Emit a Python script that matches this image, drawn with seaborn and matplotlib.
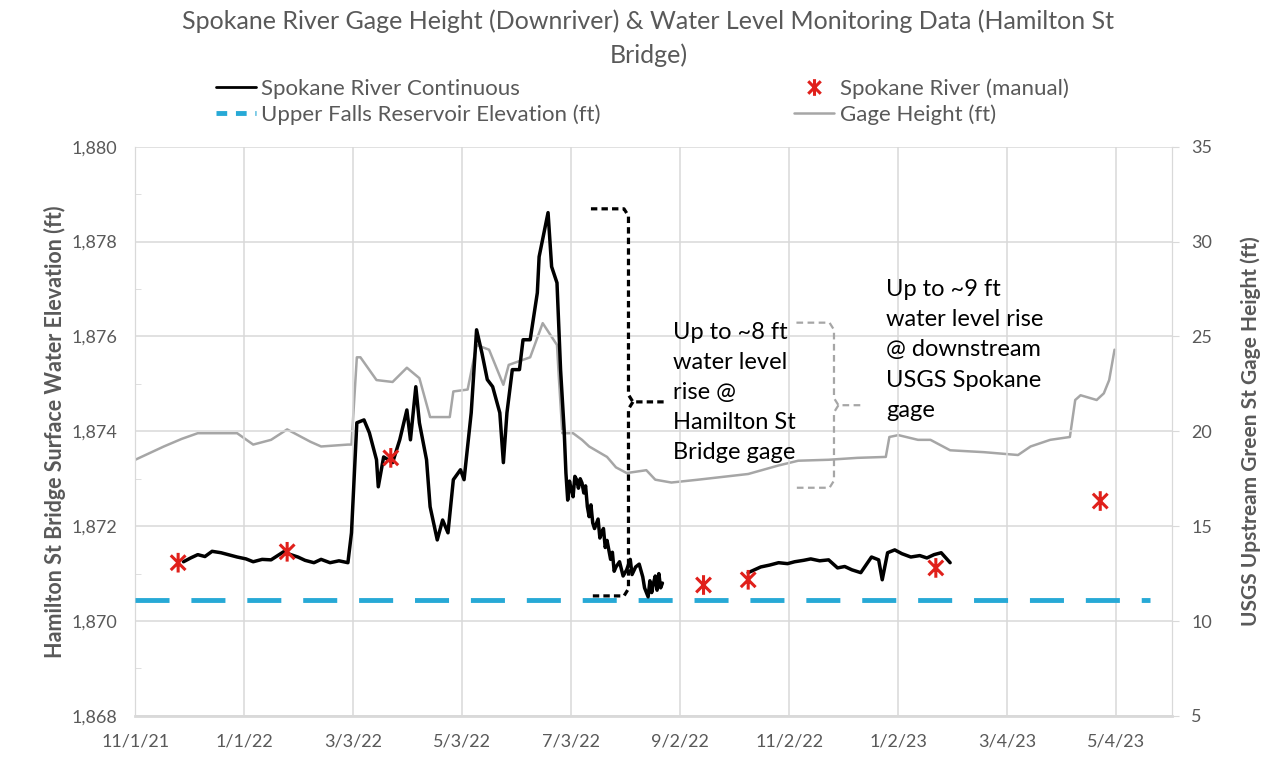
import pandas as pd
import numpy as np
import matplotlib
matplotlib.use("Agg")
import matplotlib.pyplot as plt
from matplotlib.lines import Line2D
from matplotlib.path import Path
import seaborn as sns

# --- data ---
# continuous logger, Hamilton St Bridge (left axis, ft)
cont1_dates = ["2021-11-28", "2021-12-02", "2021-12-06", "2021-12-10", "2021-12-14", "2021-12-19",
               "2021-12-23", "2021-12-28", "2022-01-02", "2022-01-06", "2022-01-11", "2022-01-16",
               "2022-01-23", "2022-01-27", "2022-01-31", "2022-02-04", "2022-02-09", "2022-02-13",
               "2022-02-18", "2022-02-23", "2022-02-28", "2022-03-02", "2022-03-05", "2022-03-09",
               "2022-03-12", "2022-03-16", "2022-03-17", "2022-03-20", "2022-03-25", "2022-03-29",
               "2022-04-02", "2022-04-04", "2022-04-07", "2022-04-09", "2022-04-13", "2022-04-15",
               "2022-04-19", "2022-04-22", "2022-04-25", "2022-04-28", "2022-05-02", "2022-05-04",
               "2022-05-08", "2022-05-11", "2022-05-14", "2022-05-17", "2022-05-20", "2022-05-24",
               "2022-05-26", "2022-05-28", "2022-05-31", "2022-06-04", "2022-06-06", "2022-06-10",
               "2022-06-14", "2022-06-15", "2022-06-20", "2022-06-22", "2022-06-25", "2022-06-27",
               "2022-06-29", "2022-06-30", "2022-07-01", "2022-07-02", "2022-07-03", "2022-07-04",
               "2022-07-05", "2022-07-06", "2022-07-07", "2022-07-08", "2022-07-09", "2022-07-10",
               "2022-07-11", "2022-07-12", "2022-07-13", "2022-07-14", "2022-07-15", "2022-07-16",
               "2022-07-18", "2022-07-19", "2022-07-20", "2022-07-21", "2022-07-22", "2022-07-23",
               "2022-07-24", "2022-07-25", "2022-07-26", "2022-07-27", "2022-07-28", "2022-07-30",
               "2022-08-01", "2022-08-03", "2022-08-05", "2022-08-06", "2022-08-08", "2022-08-10",
               "2022-08-12", "2022-08-13", "2022-08-15", "2022-08-16", "2022-08-17", "2022-08-18",
               "2022-08-19", "2022-08-20", "2022-08-21", "2022-08-22", "2022-08-23"]
cont1_ft = [1871.25, 1871.33, 1871.40, 1871.36, 1871.47, 1871.44,
            1871.40, 1871.35, 1871.31, 1871.25, 1871.30, 1871.29,
            1871.46, 1871.40, 1871.35, 1871.28, 1871.23, 1871.30,
            1871.23, 1871.27, 1871.23, 1871.86, 1874.18, 1874.24,
            1873.97, 1873.40, 1872.83, 1873.46, 1873.34, 1873.82,
            1874.45, 1873.82, 1874.94, 1874.18, 1873.40, 1872.41,
            1871.71, 1872.13, 1871.86, 1872.98, 1873.19, 1872.98,
            1874.39, 1876.14, 1875.65, 1875.09, 1874.94, 1874.39,
            1873.34, 1874.39, 1875.30, 1875.30, 1875.93, 1875.93,
            1876.92, 1877.68, 1878.61, 1877.47, 1877.13, 1875.30,
            1874.03, 1873.12, 1872.55, 1872.95, 1872.77, 1872.62,
            1873.05, 1872.98, 1872.80, 1873.00, 1872.91, 1872.70,
            1872.85, 1872.41, 1872.20, 1872.45, 1872.07, 1871.95,
            1872.15, 1871.75, 1871.86, 1871.95, 1871.55, 1871.70,
            1871.50, 1871.30, 1871.45, 1871.05, 1871.14, 1871.25,
            1870.95, 1871.08, 1871.30, 1870.98, 1871.14, 1871.20,
            1870.93, 1870.70, 1870.51, 1870.85, 1870.60, 1870.80,
            1870.95, 1870.65, 1871.00, 1870.70, 1870.80]

cont2_dates = ["2022-10-10", "2022-10-17", "2022-10-22", "2022-10-27", "2022-11-01", "2022-11-05",
               "2022-11-10", "2022-11-14", "2022-11-19", "2022-11-24", "2022-11-29", "2022-12-03",
               "2022-12-07", "2022-12-12", "2022-12-18", "2022-12-22", "2022-12-24", "2022-12-27",
               "2022-12-31", "2023-01-04", "2023-01-09", "2023-01-14", "2023-01-18", "2023-01-22",
               "2023-01-26", "2023-01-31"]
cont2_ft = [1871.02, 1871.14, 1871.18, 1871.23, 1871.21, 1871.25,
            1871.28, 1871.31, 1871.27, 1871.29, 1871.12, 1871.15,
            1871.08, 1871.02, 1871.35, 1871.29, 1870.87, 1871.44,
            1871.50, 1871.42, 1871.35, 1871.38, 1871.33, 1871.40,
            1871.44, 1871.23]

# manual readings (left axis, ft)
manual_dates = ["2021-11-25", "2022-01-25", "2022-03-24", "2022-09-15",
                "2022-10-10", "2023-01-23", "2023-04-25"]
manual_ft = [1871.23, 1871.46, 1873.44, 1870.76, 1870.87, 1871.12, 1872.53]

# USGS gage height (right axis, ft)
gage_dates = ["2021-11-01", "2021-11-17", "2021-11-27", "2021-12-06", "2021-12-28", "2022-01-06",
              "2022-01-16", "2022-01-25", "2022-02-07", "2022-02-13", "2022-02-28", "2022-03-02",
              "2022-03-05", "2022-03-07", "2022-03-16", "2022-03-25", "2022-04-02", "2022-04-09",
              "2022-04-15", "2022-04-26", "2022-04-28", "2022-05-06", "2022-05-11", "2022-05-18",
              "2022-05-26", "2022-05-29", "2022-06-10", "2022-06-17", "2022-06-25", "2022-06-26",
              "2022-06-28", "2022-07-04", "2022-07-09", "2022-07-13", "2022-07-23", "2022-07-28",
              "2022-08-03", "2022-08-14", "2022-08-19", "2022-08-28", "2022-09-12", "2022-10-10",
              "2022-10-27", "2022-11-07", "2022-11-24", "2022-12-10", "2022-12-26", "2022-12-28",
              "2023-01-02", "2023-01-13", "2023-01-20", "2023-01-31", "2023-02-19", "2023-03-10",
              "2023-03-17", "2023-03-28", "2023-04-08", "2023-04-11", "2023-04-14", "2023-04-23",
              "2023-04-27", "2023-04-30", "2023-05-03"]
gage_ft = [18.5, 19.2, 19.6, 19.9, 19.9, 19.3,
           19.55, 20.1, 19.45, 19.2, 19.3, 19.3,
           23.9, 23.9, 22.7, 22.6, 23.35, 22.8,
           20.75, 20.75, 22.1, 22.2, 24.55, 24.3,
           22.45, 23.5, 23.9, 25.7, 24.55, 22.9,
           19.9, 19.9, 19.55, 19.2, 18.65, 18.1,
           17.8, 17.95, 17.45, 17.3, 17.45, 17.75,
           18.2, 18.45, 18.5, 18.6, 18.65, 19.7,
           19.8, 19.55, 19.55, 19.0, 18.9, 18.75,
           19.2, 19.55, 19.7, 21.65, 21.9, 21.65,
           22.0, 22.7, 24.3]

# reservoir elevation (constant)
reservoir_dates = ["2021-11-01", "2023-05-23"]
reservoir_ft = [1870.45, 1870.45]

tick_dates = ["2021-11-01", "2022-01-01", "2022-03-03", "2022-05-03", "2022-07-03",
              "2022-09-02", "2022-11-02", "2023-01-02", "2023-03-04", "2023-05-04"]
tick_labels = ["11/1/21", "1/1/22", "3/3/22", "5/3/22", "7/3/22",
               "9/2/22", "11/2/22", "1/2/23", "3/4/23", "5/4/23"]

note_8ft = "Up to ~8 ft\nwater level\nrise @\nHamilton St\nBridge gage"
note_9ft = "Up to ~9 ft\nwater level rise\n@ downstream\nUSGS Spokane\ngage"

# --- frames ---
cont = pd.concat([
    pd.DataFrame({"date": pd.to_datetime(cont1_dates), "ft": cont1_ft, "seg": 1}),
    pd.DataFrame({"date": pd.to_datetime(cont2_dates), "ft": cont2_ft, "seg": 2}),
])
manual = pd.DataFrame({"date": pd.to_datetime(manual_dates), "ft": manual_ft})
gage = pd.DataFrame({"date": pd.to_datetime(gage_dates), "ft": gage_ft})
res = pd.DataFrame({"date": pd.to_datetime(reservoir_dates), "ft": reservoir_ft})

sns.set_style("white")
plt.rcParams["font.family"] = ["Lato", "DejaVu Sans"]
txt = "#595959"
grid = "#d9d9d9"
red = "#e0201b"
cyan = "#27a9d6"

# excel style "*" marker: an X with a vertical stroke
star = Path([(0, -1), (0, 1), (-0.75, -0.75), (0.75, 0.75), (-0.75, 0.75), (0.75, -0.75)],
            [Path.MOVETO, Path.LINETO] * 3)

fig = plt.figure(figsize=(12.64, 7.6), dpi=100)
ax = fig.add_axes([0.107, 0.058, 0.820, 0.749])
ax2 = ax.twinx()

sns.lineplot(data=gage, x="date", y="ft", ax=ax2, color="#a6a6a6", lw=1.8)
sns.lineplot(data=res, x="date", y="ft", ax=ax, color=cyan, lw=3.5, zorder=3)
ax.lines[-1].set_dashes([7, 4.5])
sns.lineplot(data=cont, x="date", y="ft", units="seg", estimator=None, ax=ax,
             color="black", lw=2.5, zorder=4)
sns.scatterplot(data=manual, x="date", y="ft", ax=ax, marker=star, s=200,
                facecolor="none", edgecolor=red, linewidth=2.2, zorder=5)

ax.set_zorder(ax2.get_zorder() + 1)
ax.patch.set_visible(False)

ax.set_xlim(pd.Timestamp("2021-11-01"), pd.Timestamp("2023-06-04"))
ax.set_ylim(1868, 1880)
ax2.set_ylim(5, 35)
ax.set_yticks(np.arange(1868, 1881, 2))
ax.set_yticks(np.arange(1869, 1880, 2), minor=True)
ax.yaxis.set_major_formatter(matplotlib.ticker.StrMethodFormatter("{x:,.0f}"))
ax2.set_yticks(np.arange(5, 36, 5))
ax.set_xticks(pd.to_datetime(tick_dates))
ax.set_xticklabels(tick_labels)

for a in (ax, ax2):
    for s in a.spines.values():
        s.set_color(grid)
    a.spines["top"].set_visible(False)
ax.spines["bottom"].set_linewidth(2)
ax.tick_params(axis="both", which="both", colors=grid, labelcolor=txt, labelsize=13)
ax.tick_params(axis="x", length=5, pad=8)
ax.tick_params(axis="y", which="major", length=0, pad=13)
ax.tick_params(axis="y", which="minor", length=4, direction="in")
ax2.tick_params(axis="y", colors=grid, labelcolor=txt, labelsize=13, length=5, pad=9)
ax.grid(True, which="major", color=grid, lw=1.1)
ax.set_axisbelow(True)

ax.set_xlabel("")
ax.set_ylabel("Hamilton St Bridge Surface Water Elevation (ft)", color=txt,
              fontsize=15.5, fontweight="bold", labelpad=4)
ax2.set_ylabel("USGS Upstream Green St Gage Height (ft)", color=txt,
               fontsize=15, fontweight="bold", labelpad=20, rotation=90)

# brace annotations
def brace(a, xa, xb, xc, top, mid, bot, dx, dy, **kw):
    xa, xb, xc = pd.Timestamp(xa), pd.Timestamp(xb), pd.Timestamp(xc)
    d = pd.Timedelta(days=dx)
    a.plot([xa, xb - d, xb, xb, xb + d, xc], [top, top, top - dy, mid + dy, mid, mid], **kw)
    a.plot([xb + d, xb, xb, xb - d, xa], [mid, mid - dy, bot + dy, bot, bot], **kw)

brace(ax, "2022-07-14", "2022-08-04", "2022-08-25", 1878.69, 1874.62, 1870.53, 2.5, 0.15,
      color="black", lw=2.3, ls=(0, (2.0, 1.3)), zorder=6)
brace(ax, "2022-11-06", "2022-11-27", "2022-12-12", 1876.29, 1874.55, 1872.81, 2.5, 0.15,
      color="#a6a6a6", lw=1.6, ls=(0, (3, 2)), zorder=6)

ax.text(pd.Timestamp("2022-08-29"), 1876.3, note_8ft, fontsize=17, color="black",
        va="top", ha="left", linespacing=1.52, zorder=7)
ax.text(pd.Timestamp("2022-12-26"), 1877.22, note_9ft, fontsize=17, color="black",
        va="top", ha="left", linespacing=1.55, zorder=7)

# title and legend
fig.text(0.513, 0.987, "Spokane River Gage Height (Downriver) & Water Level Monitoring Data (Hamilton St\nBridge)",
         ha="center", va="top", fontsize=18, color=txt, linespacing=1.5)
handles = [
    Line2D([], [], color="black", lw=2),
    Line2D([], [], color=cyan, lw=3.5, dashes=[2.2, 1.8]),
    Line2D([], [], color=red, marker=star, ls="", ms=12, mew=2.2),
    Line2D([], [], color="#a6a6a6", lw=1.8),
]
labels = ["Spokane River Continuous", "Upper Falls Reservoir Elevation (ft)",
          "Spokane River (manual)", "Gage Height (ft)"]
fig.legend(handles, labels, ncol=2, loc="upper center", bbox_to_anchor=(0.508, 0.923),
           frameon=False, fontsize=16, labelcolor=txt, handlelength=1.8, handletextpad=0.25,
           columnspacing=8.7, labelspacing=0.22)

fig.savefig("out.png", dpi=100)
